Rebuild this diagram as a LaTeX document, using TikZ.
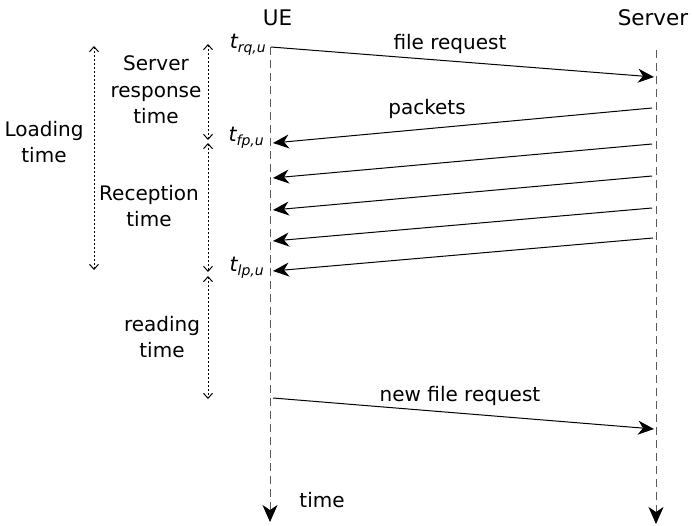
\documentclass[tikz,border=0pt]{standalone}
\usepackage{fontspec}
\setmainfont{DejaVu Sans}
\usetikzlibrary{arrows.meta}
\begin{document}
\begin{tikzpicture}[x=1pt,y=-1pt,
  every node/.style={font=\fontsize{20}{26.5}\selectfont, inner sep=0pt, align=center},
  head/.style={font=\fontsize{21.5}{26}\selectfont},
  life/.style={draw=black!65, line width=1pt, dash pattern=on 8pt off 5pt, -{Stealth[length=17pt,width=15pt,inset=5pt,color=black]}},
  msg/.style={draw=black, line width=1pt, -{Stealth[length=16pt,width=14pt,inset=5pt]}},
  span/.style={draw=black, line width=1pt, dash pattern=on 2pt off 2pt, {Straight Barb[length=5pt,width=9pt]}-{Straight Barb[length=5pt,width=9pt]}},
  tlab/.style={font=\fontsize{20.5}{24}\selectfont\itshape}
]
\useasboundingbox (0,0) rectangle (692,525);
% heads
\node[head] (ue) at (277.5,18) {UE};
\node[head] (srv) at (653,18) {Server};
% lifelines
\coordinate (ueTop) at (270,47);
\coordinate (ueBot) at (270,522);
\coordinate (svTop) at (656,50);
\coordinate (svBot) at (656,524);
\draw[life] (ueTop) -- (ueBot);
\draw[life] (svTop) -- (svBot);
\node (time) at (322,500) {time};
% messages
\coordinate (u1) at (271,47);  \coordinate (s1) at (654,77);
\coordinate (s2) at (652,108); \coordinate (u2) at (273,143);
\coordinate (s3) at (652,144); \coordinate (u3) at (273,178);
\coordinate (s4) at (652,176); \coordinate (u4) at (273,210);
\coordinate (s5) at (652,208); \coordinate (u5) at (273,241);
\coordinate (s6) at (653,238); \coordinate (u6) at (273,271);
\coordinate (u7) at (273,398); \coordinate (s7) at (654,429);
\draw[msg] (u1) -- (s1);
\draw[msg] (s2) -- (u2);
\draw[msg] (s3) -- (u3);
\draw[msg] (s4) -- (u4);
\draw[msg] (s5) -- (u5);
\draw[msg] (s6) -- (u6);
\draw[msg] (u7) -- (s7);
\node (fr) at (450,44) {file request};
\node (pk) at (427,109) {packets};
\node (nfr) at (460,396) {new file request};
% time labels
\node[tlab, anchor=east] (trq) at (266,45) {t\raisebox{-4pt}{\fontsize{14}{14}\selectfont rq,u}};
\node[tlab, anchor=east] (tfp) at (264,138) {t\raisebox{-4pt}{\fontsize{14}{14}\selectfont fp,u}};
\node[tlab, anchor=east] (tlp) at (264,268) {t\raisebox{-4pt}{\fontsize{14}{14}\selectfont lp,u}};
% spans
\coordinate (l1) at (94,46);  \coordinate (l2) at (94,270);
\coordinate (a1) at (208,44); \coordinate (a2) at (208,140);
\coordinate (b1) at (208,143); \coordinate (b2) at (208,272);
\coordinate (c1) at (208,276); \coordinate (c2) at (208,399);
\draw[span] (l1) -- (l2);
\draw[span] (a1) -- (a2);
\draw[span] (b1) -- (b2);
\draw[span] (c1) -- (c2);
\node (lt) at (44,142) {Loading\\time};
\node (srt) at (156,90) {Server\\response\\time};
\node (rt) at (149,206) {Reception\\time};
\node (rdt) at (162,337) {reading\\time};
\end{tikzpicture}
\end{document}
